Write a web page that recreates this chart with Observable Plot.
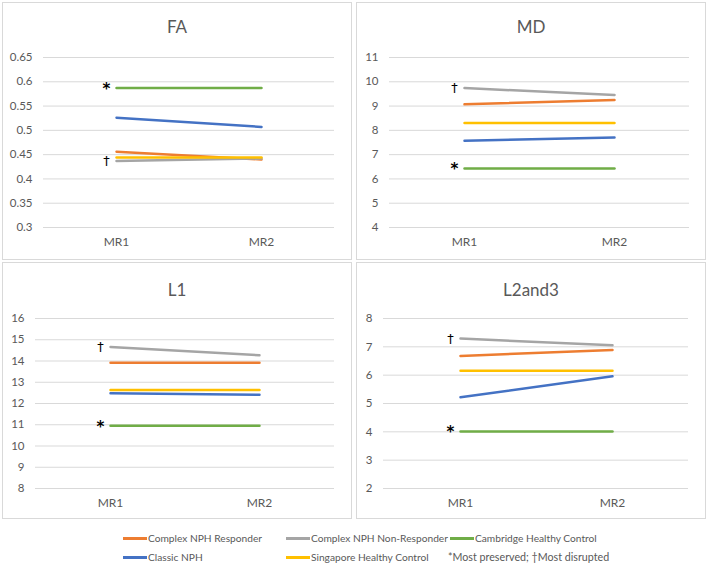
<!DOCTYPE html>
<html>
<head>
<meta charset="utf-8">
<script src="https://cdn.jsdelivr.net/npm/d3@7"></script>
<script src="https://cdn.jsdelivr.net/npm/@observablehq/plot@0.6"></script>
<style>
  html, body { margin: 0; padding: 0; background: #fff; }
  #root { position: relative; width: 708px; height: 563px; background: #fff; font-family: Lato, "Open Sans", sans-serif; color: #595959; overflow: hidden; }
  .panel { position: absolute; box-sizing: border-box; border: 1px solid #d9d9d9; background: #fff; }
  .ptitle { position: absolute; left: 0; right: 0; text-align: center; font-size: 17px; line-height: 20px; color: #595959; }
  .pchart { position: absolute; left: 0; top: 40px; }
  .leg { position: absolute; font-size: 10.2px; line-height: 14px; color: #595959; white-space: nowrap; }
  .sw { display: inline-block; width: 24px; height: 2.5px; vertical-align: middle; margin-right: 1px; position: relative; top: -1px; }
</style>
</head>
<body>
<div id="root"></div>
<script>
const timepoints = ["MR1", "MR2"];
const groups = ["Complex NPH Responder", "Complex NPH Non-Responder", "Cambridge Healthy Control", "Classic NPH", "Singapore Healthy Control"];
const colors = ["#ED7D31", "#A5A5A5", "#70AD47", "#4472C4", "#FFC000"];

const faMR1 = [0.456, 0.437, 0.587, 0.526, 0.444];
const faMR2 = [0.440, 0.442, 0.587, 0.507, 0.444];
const faTicks = [0.3, 0.35, 0.4, 0.45, 0.5, 0.55, 0.6, 0.65];

const mdMR1 = [9.07, 9.74, 6.43, 7.57, 8.30];
const mdMR2 = [9.25, 9.46, 6.43, 7.71, 8.30];
const mdTicks = [4, 5, 6, 7, 8, 9, 10, 11];

const l1MR1 = [13.92, 14.66, 10.95, 12.48, 12.63];
const l1MR2 = [13.92, 14.27, 10.95, 12.41, 12.63];
const l1Ticks = [8, 9, 10, 11, 12, 13, 14, 15, 16];

const l23MR1 = [6.68, 7.29, 4.01, 5.22, 6.16];
const l23MR2 = [6.89, 7.06, 4.01, 5.96, 6.16];
const l23Ticks = [2, 3, 4, 5, 6, 7, 8];

const markerSymbols = ["*", "†"];
const markerSizes = [15, 13];
const markerGroups = ["Cambridge Healthy Control", "Complex NPH Non-Responder"];
const footnote = "*Most preserved; †Most disrupted";

const root = document.getElementById("root");

function makePanel(cfg) {
  const div = document.createElement("div");
  div.className = "panel";
  div.style.left = cfg.left + "px";
  div.style.top = cfg.top + "px";
  div.style.width = "350px";
  div.style.height = cfg.boxH + "px";
  const t = document.createElement("div");
  t.className = "ptitle";
  t.style.top = cfg.titleTop + "px";
  t.textContent = cfg.title;
  div.appendChild(t);

  const data = [];
  groups.forEach((g, i) => {
    data.push({group: g, time: timepoints[0], value: cfg.mr1[i]});
    data.push({group: g, time: timepoints[1], value: cfg.mr2[i]});
  });
  const marks = markerSymbols.map((s, k) => {
    const gi = groups.indexOf(markerGroups[k]);
    return {sym: s, size: markerSizes[k], time: timepoints[0], value: cfg.mr1[gi]};
  });

  const chart = Plot.plot({
    width: 348,
    height: cfg.svgH,
    marginTop: cfg.mt,
    marginBottom: cfg.mb,
    marginLeft: cfg.ml,
    marginRight: cfg.mr,
    x: {type: "point", domain: timepoints, padding: 0.5, label: null},
    y: {domain: [cfg.ticks[0], cfg.ticks[cfg.ticks.length - 1]], label: null},
    color: {domain: groups, range: colors},
    style: {fontFamily: "Lato, 'Open Sans', sans-serif", fontSize: "12px", color: "#595959", background: "white", overflow: "visible"},
    marks: [
      Plot.gridY(cfg.ticks, {stroke: "#d9d9d9", strokeOpacity: 1, strokeWidth: 1}),
      Plot.axisY(cfg.ticks, {tickSize: 0, tickPadding: 11, tickFormat: d => String(d), fontSize: 11.5, fill: "#595959"}),
      Plot.axisX({tickSize: 0, tickPadding: 10, fontSize: 12, fill: "#595959"}),
      Plot.line(data, {x: "time", y: "value", z: "group", stroke: "group", strokeWidth: 2.5}),
      Plot.text(marks.slice(0, 1), {x: "time", y: "value", text: "sym", dx: -10, dy: 1, fontSize: markerSizes[0], fill: "black", fontFamily: "DejaVu Sans", fontWeight: "bold"}),
      Plot.text(marks.slice(1), {x: "time", y: "value", text: "sym", dx: -10, fontSize: markerSizes[1], fill: "black", fontFamily: "DejaVu Sans", fontWeight: "normal"})
    ]
  });
  chart.classList.add("pchart");
  div.appendChild(chart);
  root.appendChild(div);
}

makePanel({title: "FA", left: 2, top: 2, boxH: 258, titleTop: 14, svgH: 215, mt: 14, mb: 31, ml: 40, mr: 17, ticks: faTicks, mr1: faMR1, mr2: faMR2});
makePanel({title: "MD", left: 356, top: 2, boxH: 258, titleTop: 14, svgH: 215, mt: 14, mb: 31, ml: 32, mr: 16, ticks: mdTicks, mr1: mdMR1, mr2: mdMR2});
makePanel({title: "L1", left: 2, top: 262, boxH: 257, titleTop: 17, svgH: 214, mt: 15, mb: 29, ml: 32, mr: 17, ticks: l1Ticks, mr1: l1MR1, mr2: l1MR2});
makePanel({title: "L2and3", left: 356, top: 262, boxH: 257, titleTop: 17, svgH: 214, mt: 15, mb: 29, ml: 26, mr: 17, ticks: l23Ticks, mr1: l23MR1, mr2: l23MR2});

// legend
const legendPos = [[123, 531], [286, 531], [450, 531], [123, 550], [286, 550]];
const legendOrder = [0, 1, 2, 3, 4];
legendOrder.forEach((gi, k) => {
  const d = document.createElement("div");
  d.className = "leg";
  d.style.left = legendPos[k][0] + "px";
  d.style.top = legendPos[k][1] + "px";
  const sw = document.createElement("span");
  sw.className = "sw";
  sw.style.background = colors[gi];
  d.appendChild(sw);
  d.appendChild(document.createTextNode(groups[gi]));
  root.appendChild(d);
});
const fn = document.createElement("div");
fn.className = "leg";
fn.style.left = "448px";
fn.style.top = "550px";
fn.style.fontSize = "10.7px";
fn.textContent = footnote;
root.appendChild(fn);
</script>
</body>
</html>
